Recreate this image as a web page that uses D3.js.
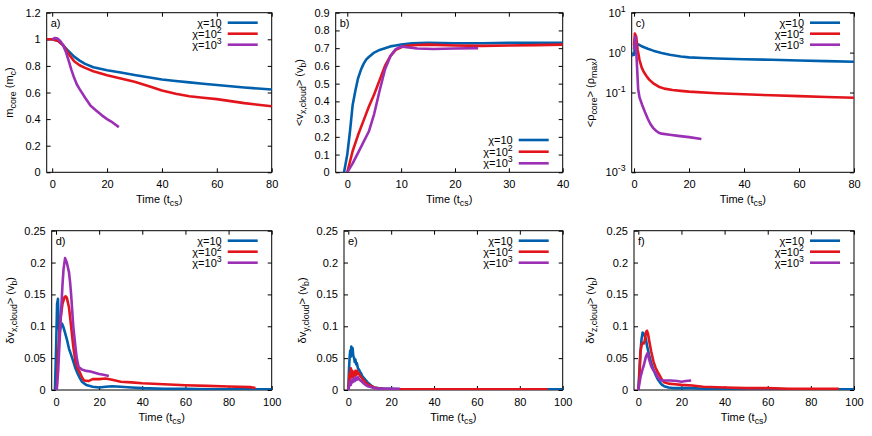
<!DOCTYPE html>
<html>
<head>
<meta charset="utf-8">
<script src="https://cdn.jsdelivr.net/npm/d3@7"></script>
<style>
  body { margin: 0; background: #fff; }
  svg text { font-family: "Liberation Sans", Arial, sans-serif; fill: #000; }
</style>
</head>
<body>
<svg id="chart" width="872" height="436"></svg>
<script>
// series labels and colours (chi = 10, 10^2, 10^3)
const chiLabels = [['χ=10', ''], ['χ=10', '2'], ['χ=10', '3']];
const colors = ['#0060ad', '#e3151c', '#9b30b5'];

// a) core mass (m_c) vs time (t_cs)
const massChi10 = [[-2,1.0],[0,1.0],[2,0.99],[4,0.955],[6,0.91],[8,0.87],[10,0.84],[12,0.815],[15,0.79],[20,0.768],[25,0.75],[30,0.732],[35,0.715],[40,0.698],[45,0.686],[50,0.676],[55,0.666],[60,0.656],[65,0.647],[70,0.638],[75,0.63],[80,0.622]];
const massChi100 = [[-2,1.0],[0,1.0],[2,0.99],[4,0.955],[6,0.89],[8,0.835],[10,0.805],[12,0.785],[15,0.76],[20,0.73],[25,0.705],[30,0.68],[35,0.648],[40,0.615],[45,0.59],[50,0.572],[55,0.56],[60,0.55],[65,0.535],[70,0.52],[75,0.508],[80,0.497]];
const massChi1000 = [[0,1.0],[1,1.01],[2,1.005],[3,0.985],[4,0.955],[5,0.905],[6,0.84],[7,0.77],[8,0.71],[9,0.66],[10,0.625],[12,0.56],[14,0.5],[16,0.465],[18,0.43],[20,0.4],[22,0.375],[24.3,0.34]];

// b) mean cloud velocity <v_x,cloud> (v_b)
const velChi10 = [[-0.6,0],[0,0.1],[0.5,0.23],[1,0.38],[1.5,0.46],[2,0.53],[2.5,0.575],[3,0.61],[3.5,0.635],[4,0.65],[5,0.675],[6,0.69],[7,0.7],[8,0.71],[9,0.715],[10,0.72],[12,0.727],[15,0.73],[20,0.728],[25,0.728],[30,0.73],[35,0.73],[40,0.73]];
const velChi100 = [[0,0],[1,0.12],[2,0.21],[3,0.29],[4,0.37],[5,0.44],[6,0.52],[7,0.6],[8,0.655],[9,0.69],[10,0.705],[11,0.713],[13,0.718],[15,0.72],[20,0.715],[25,0.713],[30,0.715],[35,0.717],[40,0.72]];
const velChi1000 = [[0,0],[1,0.05],[2,0.11],[3,0.17],[4,0.23],[5,0.33],[6,0.46],[7,0.58],[8,0.655],[9,0.695],[10,0.71],[11,0.705],[13,0.698],[16,0.695],[20,0.698],[24.3,0.7]];

// c) mean core density <rho_core> (rho_max), log scale
const rhoChi10 = [[-1,0.85],[0,0.88],[0.4,1.5],[1,1.55],[1.6,1.6],[3,1.42],[5,1.25],[7,1.12],[10,0.98],[13,0.88],[17,0.8],[20,0.76],[25,0.73],[30,0.71],[40,0.68],[50,0.66],[60,0.635],[70,0.61],[80,0.59]];
const rhoChi100 = [[0,1.5],[0.3,3.0],[0.8,2.5],[1.3,1.2],[2,0.65],[2.8,0.42],[3.5,0.33],[4.5,0.26],[5.5,0.21],[7,0.17],[9,0.14],[11,0.125],[14,0.115],[17,0.11],[20,0.105],[30,0.096],[40,0.09],[50,0.085],[60,0.081],[70,0.077],[80,0.074]];
const rhoChi1000 = [[0,1.2],[0.5,2.5],[1,0.6],[1.5,0.12],[2,0.075],[3,0.048],[4,0.032],[5,0.022],[6,0.016],[7,0.0128],[8,0.011],[9,0.0098],[10,0.0093],[13,0.0087],[16,0.0082],[20,0.0076],[24.5,0.0068]];

// d) velocity dispersion x
const dvxChi10 = [[-0.5,0],[0,0.06],[0.5,0.135],[0.9,0.143],[1.3,0.1],[1.7,0.09],[2.2,0.1],[2.8,0.104],[3.5,0.098],[4,0.092],[5,0.08],[6,0.065],[7,0.055],[8,0.045],[9,0.034],[10,0.026],[11,0.019],[12,0.013],[14,0.008],[17,0.005],[20,0.004],[23,0.005],[26,0.006],[30,0.005],[35,0.004],[40,0.003],[50,0.002],[60,0.002],[70,0.001],[80,0.001],[90,0.001],[100,0.001]];
const dvxChi100 = [[0.3,0],[1,0.06],[2,0.11],[3,0.135],[4,0.146],[4.5,0.147],[5,0.145],[6,0.13],[7,0.1],[8,0.068],[9,0.045],[10,0.034],[11,0.028],[12,0.02],[13,0.015],[15,0.014],[17,0.017],[20,0.017],[23,0.018],[26,0.016],[30,0.013],[35,0.012],[40,0.0105],[50,0.009],[60,0.0075],[70,0.0065],[80,0.0055],[90,0.0045],[92.5,0.003]];
const dvxChi1000 = [[0.3,0],[1,0.03],[2,0.1],[3,0.165],[3.5,0.19],[4.2,0.207],[5,0.2],[6,0.185],[6.5,0.17],[7,0.15],[8,0.1],[9,0.068],[9.6,0.05],[10.5,0.036],[12,0.032],[14,0.03],[16,0.029],[18,0.027],[20,0.025],[22,0.024],[24.5,0.022]];

// e) velocity dispersion y
const dvyChi10 = [[0,0],[0.3,0.03],[0.6,0.05],[0.9,0.062],[1.1,0.052],[1.4,0.068],[1.7,0.06],[2,0.066],[2.3,0.054],[2.7,0.05],[3,0.044],[3.3,0.048],[3.7,0.04],[4,0.042],[4.5,0.034],[5,0.032],[5.5,0.028],[6,0.026],[6.5,0.022],[7,0.02],[8,0.016],[9,0.012],[10,0.009],[11,0.006],[12,0.004],[14,0.003],[17,0.002],[20,0.002],[25,0.001],[40,0.001],[100,0.001]];
const dvyChi100 = [[0,0],[0.3,0.012],[0.6,0.026],[0.9,0.018],[1.2,0.034],[1.5,0.024],[1.8,0.03],[2.1,0.02],[2.5,0.028],[2.9,0.022],[3.3,0.03],[3.7,0.024],[4.1,0.03],[4.5,0.025],[5,0.026],[5.5,0.022],[6,0.02],[7,0.016],[8,0.012],[9,0.009],[10,0.007],[12,0.004],[15,0.002],[20,0.001],[30,0.001],[93,0.001]];
const dvyChi1000 = [[0,0],[0.4,0.006],[0.8,0.014],[1.2,0.008],[1.6,0.016],[2,0.012],[2.5,0.018],[3,0.014],[3.5,0.02],[4,0.016],[4.5,0.02],[5,0.017],[6,0.014],[7,0.011],[8,0.008],[9,0.006],[10,0.005],[12,0.003],[15,0.002],[20,0.002],[24,0.002]];

// f) velocity dispersion z
const dvzChi10 = [[0,0],[0.5,0.03],[1,0.06],[1.5,0.08],[2,0.09],[2.5,0.088],[3,0.085],[3.5,0.08],[4,0.07],[5,0.055],[6,0.042],[7,0.032],[8,0.024],[9,0.017],[10,0.012],[11,0.008],[12,0.006],[14,0.004],[16,0.003],[20,0.003],[25,0.003],[30,0.002],[40,0.001],[60,0.001],[100,0.001]];
const dvzChi100 = [[0,0],[0.5,0.02],[1,0.06],[1.5,0.07],[2,0.074],[2.5,0.073],[3,0.078],[3.5,0.09],[4,0.093],[4.5,0.088],[5,0.078],[6,0.06],[7,0.045],[8,0.035],[9,0.028],[10,0.022],[11,0.016],[12,0.012],[14,0.01],[17,0.009],[20,0.008],[25,0.007],[30,0.005],[40,0.004],[50,0.003],[60,0.003],[70,0.002],[80,0.002],[93,0.002]];
const dvzChi1000 = [[0,0],[1,0.02],[2,0.033],[2.5,0.038],[3,0.045],[3.5,0.052],[4.3,0.058],[5,0.048],[6,0.037],[7,0.031],[8,0.027],[9,0.02],[10,0.016],[11,0.015],[13,0.015],[15,0.015],[18,0.014],[20,0.013],[22,0.014],[24.5,0.015]];

// axis label pieces: [text, 'sub'|'sup'|undefined]
const timeLabel = [['Time (t'], ['cs', 'sub'], [')']];
const dvTicks = [0, 0.05, 0.1, 0.15, 0.2, 0.25];
const timeTicks100 = [0, 20, 40, 60, 80, 100];

const panels = [
  { tag: 'a)', box: [46.7, 12.7, 271.7, 172.3], xd: [-2, 80], xt: [0, 20, 40, 60, 80],
    yd: [0, 1.2], yt: [0, 0.2, 0.4, 0.6, 0.8, 1, 1.2], ylx: 38,
    ylab: [['m'], ['core', 'sub'], [' (m'], ['c', 'sub'], [')']],
    series: [massChi10, massChi100, massChi1000], legend: 'top' },
  { tag: 'b)', box: [335.7, 12.7, 562.7, 172.3], xd: [-2.15, 40], xt: [0, 10, 20, 30, 40],
    yd: [0, 0.9], yt: [0, 0.1, 0.2, 0.3, 0.4, 0.5, 0.6, 0.7, 0.8, 0.9], ylx: 37,
    ylab: [['<v'], ['x,cloud', 'sub'], ['> (v'], ['b', 'sub'], [')']],
    series: [velChi10, velChi100, velChi1000], legend: 'bottom' },
  { tag: 'c)', box: [631.7, 12.7, 854, 172.3], xd: [-0.85, 80], xt: [0, 20, 40, 60, 80],
    yd: [1e-3, 10], yt: [10, 1, 0.1, 1e-3], log: true, ylx: 42,
    ylab: [['<ρ'], ['core', 'sub'], ['> (ρ'], ['max', 'sub'], [')']],
    series: [rhoChi10, rhoChi100, rhoChi1000], legend: 'top' },
  { tag: 'd)', box: [51.7, 230.7, 271.7, 390], xd: [-2, 100], xt: timeTicks100,
    yd: [0, 0.25], yt: dvTicks, ylx: 42,
    ylab: [['δv'], ['x,cloud', 'sub'], ['> (v'], ['b', 'sub'], [')']],
    series: [dvxChi10, dvxChi100, dvxChi1000], legend: 'top' },
  { tag: 'e)', box: [344, 230.7, 562.7, 390], xd: [-2, 100], xt: timeTicks100,
    yd: [0, 0.25], yt: dvTicks, ylx: 42,
    ylab: [['δv'], ['y,cloud', 'sub'], ['> (v'], ['b', 'sub'], [')']],
    series: [dvyChi10, dvyChi100, dvyChi1000], legend: 'top' },
  { tag: 'f)', box: [634, 230.7, 854, 390], xd: [-2, 100], xt: timeTicks100,
    yd: [0, 0.25], yt: dvTicks, ylx: 44,
    ylab: [['δv'], ['z,cloud', 'sub'], ['> (v'], ['b', 'sub'], [')']],
    series: [dvzChi10, dvzChi100, dvzChi1000], legend: 'top' }
];

const FS = 11;
const svg = d3.select('#chart');

// text with sub/superscripts built from tspans
function rich(text, parts, fs) {
  let cur = 0;
  parts.forEach(([str, kind]) => {
    if (!str) return;
    const shift = kind === 'sub' ? 0.3 * fs : kind === 'sup' ? -0.45 * fs : 0;
    const ts = text.append('tspan').text(str);
    if (shift - cur) ts.attr('dy', shift - cur);
    if (kind) ts.attr('font-size', fs * 0.8);
    cur = shift;
  });
  return text;
}

const fmt = d => String(+d.toFixed(3));
const logExp = { 10: '1', 1: '0', 0.1: '-1', 0.01: '-2', 0.001: '-3' };

panels.forEach((p, i) => {
  const [l, t, r, b] = p.box;
  const g = svg.append('g');

  const x = d3.scaleLinear().domain(p.xd).range([l, r]);
  const y = (p.log ? d3.scaleLog() : d3.scaleLinear()).domain(p.yd).range([b, t]);

  const clipId = 'clip' + i;
  svg.append('clipPath').attr('id', clipId)
    .append('rect').attr('x', l).attr('y', t).attr('width', r - l).attr('height', b - t);

  // axes, gnuplot style: inward ticks mirrored on all sides
  const xb = g.append('g').attr('transform', `translate(0,${b})`)
    .call(d3.axisBottom(x).tickValues(p.xt).tickSizeInner(-4).tickSizeOuter(0).tickPadding(8).tickFormat(fmt));
  const xtp = g.append('g').attr('transform', `translate(0,${t})`)
    .call(d3.axisTop(x).tickValues(p.xt).tickSizeInner(-4).tickSizeOuter(0).tickFormat(''));
  const yl = g.append('g').attr('transform', `translate(${l},0)`)
    .call(d3.axisLeft(y).tickValues(p.yt).tickSizeInner(-4).tickSizeOuter(0).tickPadding(6).tickFormat(fmt));
  const yr = g.append('g').attr('transform', `translate(${r},0)`)
    .call(d3.axisRight(y).tickValues(p.yt).tickSizeInner(-4).tickSizeOuter(0).tickFormat(''));

  [xb, xtp, yl, yr].forEach(a => {
    a.select('.domain').remove();
    a.selectAll('.tick line').attr('stroke', '#000');
    a.selectAll('text').attr('font-size', FS).attr('font-family', null).attr('fill', '#000');
  });

  if (p.log) {
    yl.selectAll('.tick text').each(function(d) {
      const el = d3.select(this).text('');
      rich(el, [['10'], [logExp[d], 'sup']], FS);
    });
  }

  g.append('rect').attr('x', l).attr('y', t).attr('width', r - l).attr('height', b - t)
    .attr('fill', 'none').attr('stroke', '#000').attr('stroke-width', 1);

  // curves
  const line = d3.line().x(d => x(d[0])).y(d => y(d[1]));
  g.append('g').attr('clip-path', `url(#${clipId})`)
    .selectAll('path').data(p.series).join('path')
    .attr('d', line)
    .attr('fill', 'none')
    .attr('stroke', (d, k) => colors[k])
    .attr('stroke-width', 2.6)
    .attr('stroke-linejoin', 'round');

  // panel tag
  g.append('text').attr('x', l + 4).attr('y', t + 14).attr('font-size', FS).text(p.tag);

  // legend
  const rowY = p.legend === 'top'
    ? [t + 10, t + 21, t + 32]
    : [b - 32.3, b - 20.6, b - 9];
  chiLabels.forEach((lab, k) => {
    const ty = rowY[k];
    rich(g.append('text').attr('x', r - 50).attr('y', ty + 4).attr('text-anchor', 'end').attr('font-size', FS),
      [[lab[0]], [lab[1], 'sup']], FS);
    g.append('line').attr('x1', r - 44).attr('x2', r - 14).attr('y1', ty).attr('y2', ty)
      .attr('stroke', colors[k]).attr('stroke-width', 2.6);
  });

  // axis titles
  rich(g.append('text').attr('x', (l + r) / 2).attr('y', b + 30.5)
    .attr('text-anchor', 'middle').attr('font-size', FS), timeLabel, FS);
  rich(g.append('text').attr('transform', `translate(${l - p.ylx},${(t + b) / 2}) rotate(-90)`)
    .attr('y', 4).attr('text-anchor', 'middle').attr('font-size', FS), p.ylab, FS);
});
</script>
</body>
</html>
